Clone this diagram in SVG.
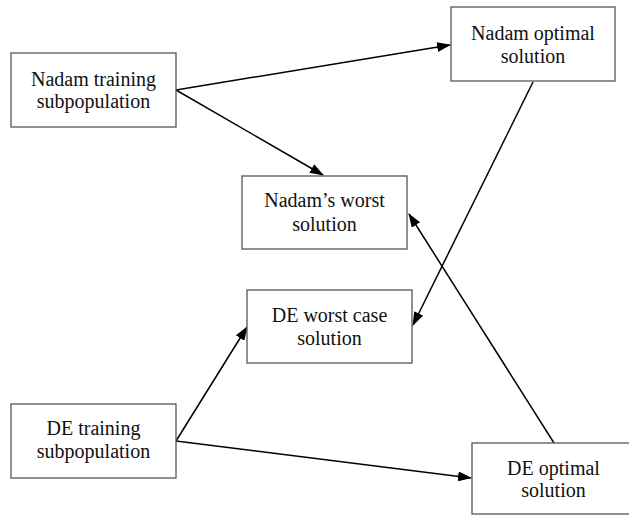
<svg xmlns="http://www.w3.org/2000/svg" width="629" height="517" viewBox="0 0 629 517">
<style>
.box{fill:#fff;stroke:#555;stroke-width:1.3}
.t{font-family:"Liberation Serif","Times New Roman",serif;font-size:20px;fill:#111;text-anchor:middle}
.c{stroke:#000;stroke-width:1.5;fill:none;marker-end:url(#ah)}
</style>
<defs>
<marker id="ah" markerWidth="14" markerHeight="10" refX="13" refY="5" orient="auto" markerUnits="userSpaceOnUse">
<path d="M0,0 L14,5 L0,10 Z" fill="#000"/>
</marker>
</defs>
<rect width="629" height="517" fill="#fff"/>
<g id="connectors">
<line class="c" x1="176" y1="90" x2="450" y2="45"/>
<line class="c" x1="176" y1="90" x2="323" y2="175"/>
<line class="c" x1="533" y1="82" x2="413" y2="325"/>
<line class="c" x1="554" y1="443" x2="409" y2="214"/>
<line class="c" x1="176" y1="441" x2="247" y2="327"/>
<line class="c" x1="176" y1="441" x2="471" y2="478"/>
</g>
<g id="nadam-training">
<rect class="box" x="11" y="53" width="165" height="74"/>
<text class="t" x="93.5" y="86">Nadam training</text>
<text class="t" x="93.5" y="108">subpopulation</text>
</g>
<g id="nadam-optimal">
<rect class="box" x="451" y="7" width="164" height="74"/>
<text class="t" x="533" y="40">Nadam optimal</text>
<text class="t" x="533" y="63">solution</text>
</g>
<g id="nadam-worst">
<rect class="box" x="242" y="176" width="165" height="73"/>
<text class="t" x="324.5" y="207">Nadam’s worst</text>
<text class="t" x="324.5" y="231">solution</text>
</g>
<g id="de-worst">
<rect class="box" x="247" y="290" width="165" height="73"/>
<text class="t" x="329.5" y="322">DE worst case</text>
<text class="t" x="329.5" y="345">solution</text>
</g>
<g id="de-training">
<rect class="box" x="11" y="404" width="165" height="74"/>
<text class="t" x="93.5" y="435">DE training</text>
<text class="t" x="93.5" y="458">subpopulation</text>
</g>
<g id="de-optimal">
<rect class="box" x="472" y="443" width="165" height="71"/>
<text class="t" x="553.5" y="475">DE optimal</text>
<text class="t" x="553.5" y="497">solution</text>
</g>
</svg>
